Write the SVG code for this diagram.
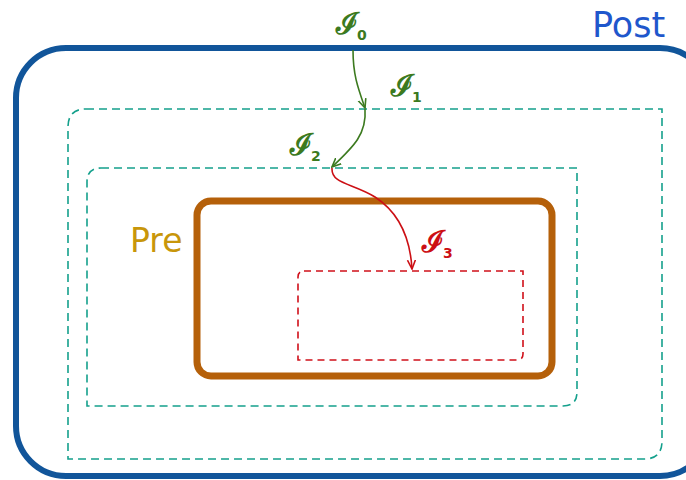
<svg xmlns="http://www.w3.org/2000/svg" width="686" height="480" viewBox="0 0 686 480">
  <style>
    .post { fill: none; stroke: #11559a; stroke-width: 6; }
    .inv { fill: none; stroke: #14a08c; stroke-width: 1.6; stroke-dasharray: 8 5; }
    .pre { fill: none; stroke: #b5600a; stroke-width: 7; }
    .tgt { fill: none; stroke: #d0101a; stroke-width: 1.6; stroke-dasharray: 7 5; }
    .lbl { font-family: "DejaVu Sans", "Open Sans", sans-serif; }
    .scr { font-family: "DejaVu Serif", "Liberation Serif", serif; font-weight: bold; font-size: 30px; }
    .sub { font-family: "DejaVu Sans", sans-serif; font-style: normal; font-weight: bold; font-size: 14px; }
    .g { fill: #3c7a1f; }
    .r { fill: #cc0f14; }
    .edge-g { fill: none; stroke: #3c7a1f; stroke-width: 1.6; }
    .edge-r { fill: none; stroke: #cc0f14; stroke-width: 1.6; }
  </style>
  <defs>
    <marker id="ah-g" viewBox="0 0 10 10" refX="9" refY="5" markerWidth="10" markerHeight="10" orient="auto" markerUnits="userSpaceOnUse">
      <path d="M0,1 L9,5 L0,9" fill="none" stroke="#3c7a1f" stroke-width="1.6"/>
    </marker>
    <marker id="ah-r" viewBox="0 0 10 10" refX="9" refY="5" markerWidth="10" markerHeight="10" orient="auto" markerUnits="userSpaceOnUse">
      <path d="M0,1 L9,5 L0,9" fill="none" stroke="#cc0f14" stroke-width="1.6"/>
    </marker>
  </defs>

  <g id="post">
    <rect class="post" x="16" y="48" width="694" height="428" rx="50"/>
    <text class="lbl" x="592" y="37" font-size="35" fill="#1f57cc">Post</text>
  </g>

  <g id="inv1">
    <path class="inv" d="M86,109 H662 V441 Q662,459 644,459 H68 V127 Q68,109 86,109 Z"/>
  </g>

  <g id="inv2">
    <path class="inv" d="M101,168 H577 V392 Q577,406 563,406 H87 V182 Q87,168 101,168 Z"/>
  </g>

  <g id="pre">
    <rect class="pre" x="197" y="201" width="355" height="175" rx="14"/>
    <text class="lbl" x="130" y="252" font-size="33" fill="#c8960a">Pre</text>
  </g>

  <g id="target">
    <path class="tgt" d="M304,271 H523 V354 Q523,360 517,360 H298 V277 Q298,271 304,271 Z"/>
  </g>

  <g id="labels">
    <text class="scr g" x="336" y="34">ℐ<tspan class="sub" dx="-1" dy="6">0</tspan></text>
    <text class="scr g" x="391" y="96">ℐ<tspan class="sub" dx="-1" dy="6">1</tspan></text>
    <text class="scr g" x="290" y="155">ℐ<tspan class="sub" dx="-1" dy="6">2</tspan></text>
    <text class="scr r" x="422" y="252">ℐ<tspan class="sub" dx="-1" dy="6">3</tspan></text>
  </g>

  <g id="connectors">
    <path class="edge-g" d="M353,50 C353,75 358,88 365,108" marker-end="url(#ah-g)"/>
    <path class="edge-g" d="M365,109 C367,135 352,148 332,167" marker-end="url(#ah-g)"/>
    <path class="edge-r" d="M332,168 C331,184 352,183 375,197 C398,212 410,235 412,269" marker-end="url(#ah-r)"/>
  </g>
</svg>
